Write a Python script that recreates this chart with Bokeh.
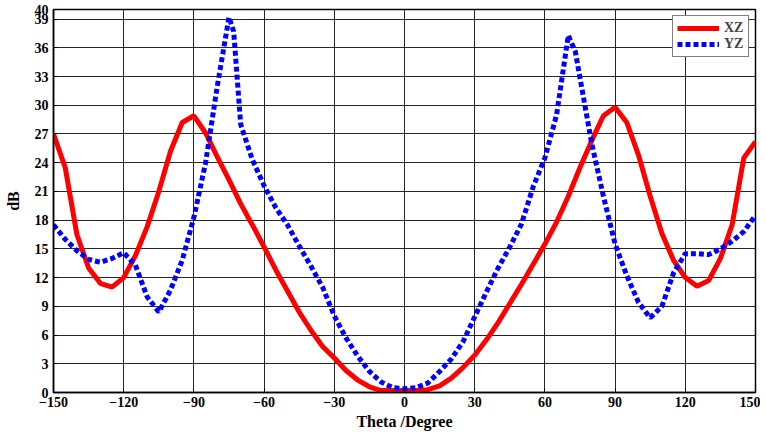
from bokeh.plotting import figure
from bokeh.models import FixedTicker, Legend, LegendItem
from bokeh.embed import file_html
from bokeh.resources import INLINE

# XZ cut (red, solid)
theta_xz = [-150, -145, -140, -135, -130, -125, -120, -115, -110, -105, -100, -95, -90,
            -85, -80, -75, -70, -65, -60, -55, -50, -45, -40, -35, -30, -25, -20, -15,
            -10, -5, 0, 5, 10, 15, 20, 25, 30, 35, 40, 45, 50, 55, 60, 65, 70, 75, 80,
            85, 90, 95, 100, 105, 110, 115, 120, 125, 130, 135, 140, 145, 150]
db_xz = [27.0, 23.5, 16.5, 13.0, 11.4, 11.0, 12.0, 14.3, 17.3, 21.0, 25.2, 28.2, 28.9,
         27.1, 24.6, 22.2, 19.7, 17.5, 15.2, 12.8, 10.6, 8.4, 6.5, 4.8, 3.6, 2.3, 1.3, 0.6,
         0.2, 0.2, 0.2, 0.2, 0.3, 0.7, 1.5, 2.6, 3.9, 5.5, 7.3, 9.3, 11.3, 13.4, 15.5, 17.8,
         20.5, 23.5, 26.3, 28.9, 29.8, 28.2, 24.8, 20.5, 16.6, 13.8, 12.0, 11.1, 11.7, 14.0,
         17.5, 24.5, 26.2]

# YZ cut (blue, dashed)
theta_yz = [-150, -145, -140, -135, -130, -125, -120, -115, -110, -105, -100, -95, -90,
            -85, -80, -75, -73, -70, -65, -60, -55, -50, -45, -40, -35, -30, -25, -20,
            -15, -10, -5, 0, 5, 10, 15, 20, 25, 30, 35, 40, 45, 50, 55, 60, 65, 70, 73,
            80, 85, 90, 95, 100, 105, 110, 115, 120, 125, 130, 135, 140, 145, 150]
db_yz = [17.5, 16.0, 14.8, 13.9, 13.6, 14.0, 14.6, 13.3, 10.0, 8.4, 10.7, 13.8, 18.3,
         24.0, 32.0, 39.2, 37.7, 28.0, 24.3, 21.6, 19.3, 17.5, 15.3, 13.2, 11.0, 8.0, 5.7,
         3.8, 2.2, 1.1, 0.5, 0.4, 0.5, 1.0, 2.2, 3.5, 5.3, 7.9, 10.5, 13.0, 15.2, 17.6,
         21.5, 24.5, 29.0, 37.3, 35.6, 26.0, 20.5, 15.5, 12.2, 9.4, 7.8, 9.0, 12.5, 14.5,
         14.5, 14.4, 15.0, 15.8, 16.8, 18.5]

x_ticks = [-150, -120, -90, -60, -30, 0, 30, 60, 90, 120, 150]
y_ticks = [0, 3, 6, 9, 12, 15, 18, 21, 24, 27, 30, 33, 36, 39, 40]

FONT = "Liberation Serif"

p = figure(width=760, height=434, x_range=(-150, 150), y_range=(0, 40),
           output_backend="svg", toolbar_location=None,
           min_border_left=53, min_border_right=5, min_border_top=9, min_border_bottom=42)

p.background_fill_color = "white"
p.border_fill_color = "white"
p.outline_line_color = "black"
p.outline_line_width = 1.5

r1 = p.line(theta_xz, db_xz, line_color="#ff0000", line_width=5)
r2 = p.line(theta_yz, db_yz, line_color="#0000ff", line_width=5, line_dash="5 3")

p.xaxis.ticker = FixedTicker(ticks=x_ticks)
p.yaxis.ticker = FixedTicker(ticks=y_ticks)
p.xgrid.ticker = FixedTicker(ticks=x_ticks)
p.ygrid.ticker = FixedTicker(ticks=y_ticks)
for g in (p.xgrid, p.ygrid):
    g.grid_line_color = "black"
    g.grid_line_width = 1
    g.grid_line_alpha = 0.85

for ax in (p.xaxis, p.yaxis):
    ax.axis_line_color = "black"
    ax.axis_line_width = 1.5
    ax.major_tick_in = 4
    ax.major_tick_out = 0
    ax.minor_tick_line_color = None
    ax.major_label_text_font = FONT
    ax.major_label_text_font_style = "bold"
    ax.major_label_text_font_size = "14px"
    ax.major_label_text_color = "black"
    ax.axis_label_text_font = FONT
    ax.axis_label_text_font_style = "bold"
    ax.axis_label_text_font_size = "16px"
    ax.axis_label_text_color = "black"

p.xaxis.axis_label = "Theta /Degree"
p.yaxis.axis_label = "dB"
p.xaxis.major_label_standoff = 4
p.xaxis.axis_label_standoff = 3
p.yaxis.major_label_standoff = 5
p.yaxis.axis_label_standoff = 10

legend = Legend(items=[LegendItem(label="XZ", renderers=[r1]),
                       LegendItem(label="YZ", renderers=[r2])],
                location="top_right")
legend.label_text_font = FONT
legend.label_text_font_style = "bold"
legend.label_text_font_size = "14px"
legend.border_line_color = "black"
legend.border_line_width = 1
legend.background_fill_alpha = 1
legend.margin = 6
legend.padding = 4
legend.spacing = 0
legend.glyph_width = 42
legend.glyph_height = 16
legend.label_height = 16
legend.label_standoff = 5
p.add_layout(legend)

open("out.html", "w").write(file_html(p, INLINE))
